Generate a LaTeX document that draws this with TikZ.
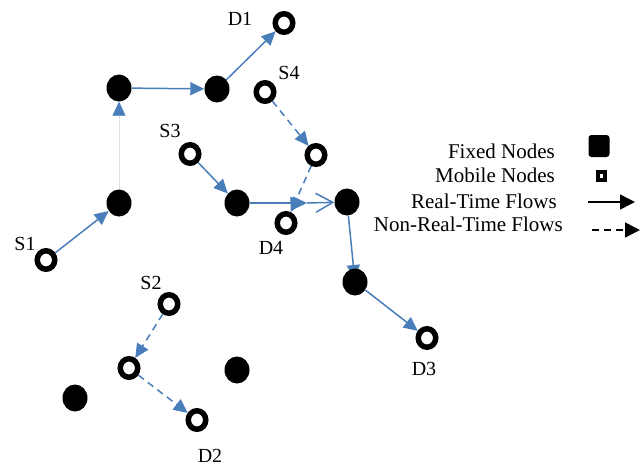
\documentclass[tikz,border=0pt]{standalone}
\usepackage{fontspec}
\setmainfont{Liberation Serif}
\usetikzlibrary{arrows.meta,shapes.geometric,backgrounds}
\definecolor{flowblue}{HTML}{4A7EBB}
\begin{document}
\begin{tikzpicture}[x=1pt,y=-1pt,
  fixed/.style={ellipse,fill=black,minimum width=25pt,minimum height=27pt,inner sep=0pt},
  mobile/.style={ellipse,draw=black,line width=5.5pt,fill=white,minimum width=17.5pt,minimum height=18.5pt,inner sep=0pt},
  lbl/.style={font=\fontsize{20}{24}\selectfont,inner sep=0pt},
  leg/.style={font=\fontsize{21}{25}\selectfont,inner sep=0pt,anchor=east},
  rt/.style={draw=flowblue,line width=1.5pt,-{Triangle[length=14pt,width=13pt]}},
  nrt/.style={rt,dash pattern=on 7pt off 5pt},
  rtopen/.style={draw=flowblue,line width=1.5pt,-{Straight Barb[length=17pt,width=19pt]}},
  legarrow/.style={draw=black,line width=1.5pt,-{Triangle[length=15pt,width=15pt]}},
]
\useasboundingbox (0,0) rectangle (643,467);

% fixed nodes
\node[fixed] (F1) at (119,88) {};
\node[fixed] (F2) at (217,89) {};
\node[fixed] (F3) at (119,203) {};
\node[fixed] (F4) at (237,203) {};
\node[fixed] (F5) at (347,202) {};
\node[fixed] (F6) at (355,282) {};
\node[fixed] (F7) at (237,370) {};
\node[fixed] (F8) at (75,398) {};

% mobile nodes
\node[mobile] (D1) at (284,23) {};
\node[mobile] (S4) at (265,92) {};
\node[mobile] (S3) at (190,154) {};
\node[mobile] (M1) at (316,155) {};
\node[mobile] (D4) at (286,223) {};
\node[mobile] (S1) at (46,260) {};
\node[mobile] (S2) at (169,304) {};
\node[mobile] (M2) at (129,368) {};
\node[mobile] (D3) at (427,338) {};
\node[mobile] (D2) at (197,420) {};

% labels
\node[lbl] (lD1) at (240,19) {D1};
\node[lbl] (lS4) at (289,73) {S4};
\node[lbl] (lS3) at (170,131) {S3};
\node[lbl] (lD4) at (271,248) {D4};
\node[lbl] (lS1) at (25,244) {S1};
\node[lbl] (lS2) at (151,283) {S2};
\node[lbl] (lD2) at (210,456) {D2};
\node[lbl] (lD3) at (424,369) {D3};

\coordinate (FM) at (307,203);

\begin{pgfonlayer}{background}
\draw[rt] (S1) -- (F3);
\draw[draw=black!12,line width=0.75pt,-{Triangle[length=14pt,width=13pt,color=flowblue]}] (F3) -- (F1);
\draw[rt] (F1) -- (F2);
\draw[rt] (F2) -- (D1);
\draw[nrt] (S4) -- (M1);
\draw[nrt] (M1) -- (D4);
\draw[rt] (S3) -- (F4);
\draw[rt] (F4) -- (FM);
\draw[rtopen] (FM) -- (F5);
\draw[rt,shorten >=3pt] (F5) -- (F6.center);
\draw[rt] (F6) -- (D3);
\draw[nrt] (S2) -- (M2);
\draw[nrt] (M2) -- (D2);
\end{pgfonlayer}

% legend
\node[leg] (tFixed) at (555,151) {Fixed Nodes};
\node[leg] (tMobile) at (555,175) {Mobile Nodes};
\node[leg] (tRT) at (557,201) {Real-Time Flows};
\node[leg] (tNRT) at (563,224) {Non-Real-Time Flows};
\node[fill=black,rounded corners=3pt,minimum width=21pt,minimum height=22pt,inner sep=0pt] (kFixed) at (599,146) {};
\node[draw=black,fill=white,line width=4pt,minimum width=7pt,minimum height=8pt,inner sep=0pt] (kMobile) at (601,176) {};
\coordinate (a1) at (588,202);
\coordinate (a2) at (635,202);
\draw[legarrow] (a1) -- (a2);
\coordinate (b1) at (592,230);
\coordinate (b2) at (640,230);
\draw[legarrow,dash pattern=on 7pt off 5pt] (b1) -- (b2);
\end{tikzpicture}
\end{document}
